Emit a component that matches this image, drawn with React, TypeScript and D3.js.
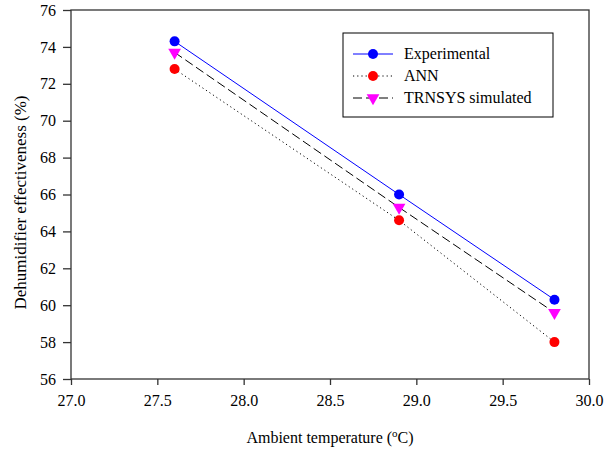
import React, { useEffect, useRef } from 'react';
import * as d3 from 'd3';

const temps = [27.6, 28.9, 29.8];
const experimental = [74.3, 66.0, 60.3];
const ann = [72.8, 64.6, 58.0];
const trnsys = [73.7, 65.3, 59.6];
const xTicks = [27.0, 27.5, 28.0, 28.5, 29.0, 29.5, 30.0];
const yTicks = [56, 58, 60, 62, 64, 66, 68, 70, 72, 74, 76];
const seriesNames = ['Experimental', 'ANN', 'TRNSYS simulated'];

const App = () => {
  const svgRef = useRef<SVGSVGElement | null>(null);

  useEffect(() => {
    const width = 605;
    const height = 453;
    const left = 71;
    const right = 589;
    const top = 10;
    const bottom = 379;
    const font = '"Liberation Serif", "Times New Roman", serif';

    const svg = d3.select(svgRef.current);
    svg.selectAll('*').remove();
    svg.attr('width', width).attr('height', height).attr('viewBox', `0 0 ${width} ${height}`);

    const x = d3.scaleLinear().domain([27, 30]).range([left, right]);
    const y = d3.scaleLinear().domain([56, 76]).range([bottom, top]);

    // frame
    svg.append('rect')
      .attr('x', left).attr('y', top)
      .attr('width', right - left).attr('height', bottom - top)
      .attr('fill', 'none').attr('stroke', '#333').attr('stroke-width', 1.3);

    const xAxis = svg.append('g')
      .attr('transform', `translate(0,${bottom})`)
      .call(d3.axisBottom(x).tickValues(xTicks).tickFormat(d3.format('.1f')).tickSize(6).tickPadding(10));
    xAxis.select('.domain').remove();
    xAxis.selectAll('line').attr('stroke', '#333').attr('stroke-width', 1.3);
    xAxis.selectAll('text').attr('font-family', font).attr('font-size', 16).attr('fill', '#000');

    const yAxis = svg.append('g')
      .attr('transform', `translate(${left},0)`)
      .call(d3.axisLeft(y).tickValues(yTicks).tickFormat(d3.format('d')).tickSize(8).tickPadding(7));
    yAxis.select('.domain').remove();
    yAxis.selectAll('line').attr('stroke', '#333').attr('stroke-width', 1.3);
    yAxis.selectAll('text').attr('font-family', font).attr('font-size', 16).attr('fill', '#000');

    // axis titles
    const xt = svg.append('text')
      .attr('x', (left + right) / 2).attr('y', 443)
      .attr('text-anchor', 'middle')
      .attr('font-family', font).attr('font-size', 16);
    xt.append('tspan').text('Ambient temperature (');
    xt.append('tspan').attr('font-size', 11).attr('dy', -6).text('o');
    xt.append('tspan').attr('dy', 6).text('C)');

    svg.append('text')
      .attr('transform', `translate(26,${(top + bottom) / 2 + 8}) rotate(-90)`)
      .attr('text-anchor', 'middle')
      .attr('font-family', font).attr('font-size', 17)
      .text('Dehumidifier effectiveness (%)');

    const line = d3.line<number>()
      .x((d, i) => x(temps[i]))
      .y((d) => y(d));

    const series = [
      { name: seriesNames[0], data: experimental, stroke: '#0000ff', dash: null, marker: 'circle', fill: '#0000ff' },
      { name: seriesNames[1], data: ann, stroke: '#000', dash: '1.2,3', marker: 'circle', fill: '#ff0000' },
      { name: seriesNames[2], data: trnsys, stroke: '#000', dash: '9,4', marker: 'tri', fill: '#ff00ff' },
    ];

    const triangle = d3.symbol().type(d3.symbolTriangle).size(70);

    const drawMarker = (g: any, cx: number, cy: number, s: any) => {
      if (s.marker === 'circle') {
        g.append('circle').attr('cx', cx).attr('cy', cy).attr('r', 5).attr('fill', s.fill);
      } else {
        g.append('path').attr('d', triangle())
          .attr('transform', `translate(${cx},${cy}) rotate(180)`)
          .attr('fill', s.fill);
      }
    };

    series.forEach((s) => {
      svg.append('path')
        .datum(s.data)
        .attr('fill', 'none')
        .attr('stroke', s.stroke)
        .attr('stroke-width', 1)
        .attr('stroke-dasharray', s.dash)
        .attr('d', line);
    });
    series.forEach((s) => {
      const g = svg.append('g');
      s.data.forEach((d, i) => drawMarker(g, x(temps[i]), y(d), s));
    });

    // legend
    const legend = svg.append('g');
    legend.append('rect')
      .attr('x', 343).attr('y', 33).attr('width', 210).attr('height', 84)
      .attr('fill', '#fff').attr('stroke', '#000').attr('stroke-width', 1);
    series.forEach((s, i) => {
      const ly = 54 + i * 22;
      legend.append('line')
        .attr('x1', 353).attr('x2', 393).attr('y1', ly).attr('y2', ly)
        .attr('stroke', s.stroke).attr('stroke-width', 1)
        .attr('stroke-dasharray', s.dash);
      drawMarker(legend, 373, ly, s);
      legend.append('text')
        .attr('x', 404).attr('y', ly + 5)
        .attr('font-family', font).attr('font-size', 16)
        .text(s.name);
    });
  }, []);

  return (
    <div style={{ position: 'absolute', left: 0, top: 0 }}>
      <svg ref={svgRef} style={{ display: 'block' }}></svg>
    </div>
  );
};

export default App;
